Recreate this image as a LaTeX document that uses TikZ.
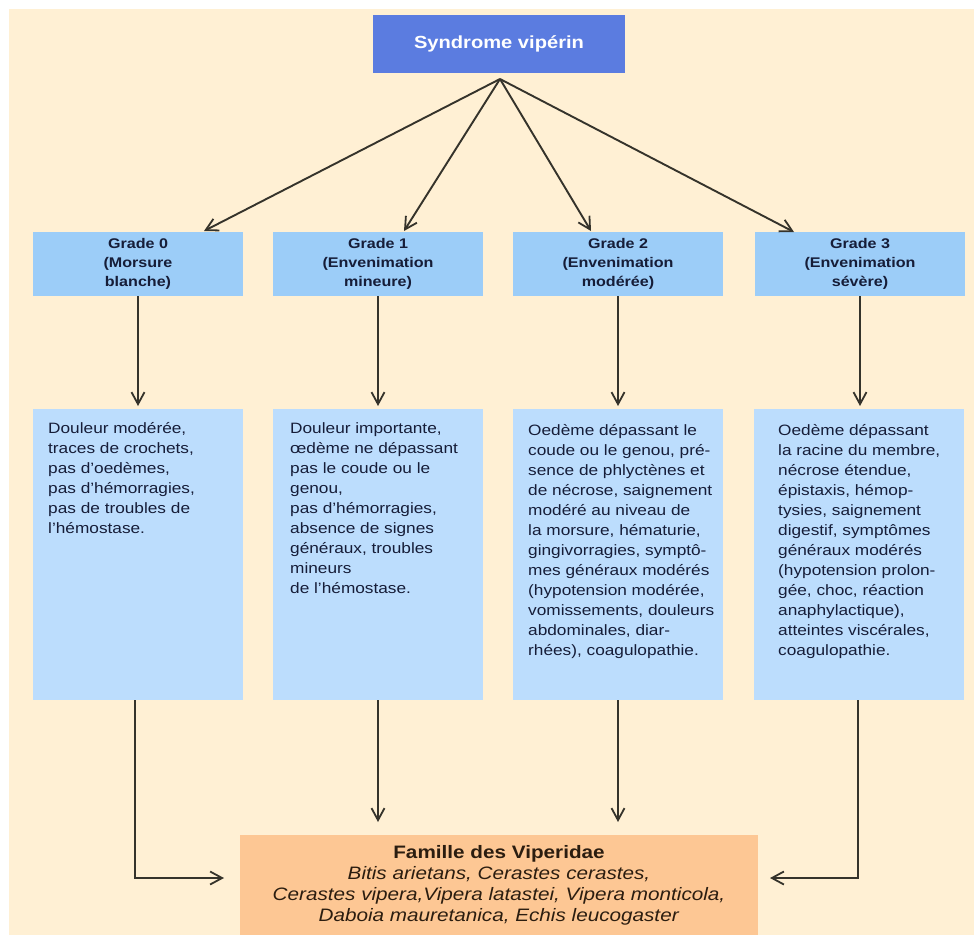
\documentclass[tikz,border=0pt]{standalone}
\usepackage{fontspec}
\setmainfont{Liberation Sans}[FakeStretch=1.15]
\usetikzlibrary{arrows.meta,calc}
\definecolor{bgc}{HTML}{FFF0D4}
\definecolor{topc}{HTML}{5B7CE0}
\definecolor{gradec}{HTML}{9CCDF8}
\definecolor{detc}{HTML}{BCDDFD}
\definecolor{famc}{HTML}{FDC794}
\definecolor{arrc}{HTML}{35332B}
\definecolor{navy}{HTML}{161D38}
\definecolor{brownt}{HTML}{2B1D10}
\tikzset{
  topbox/.style={fill=topc, inner sep=0pt, outer sep=0pt, minimum width=252pt, minimum height=58pt,
    text=white, font=\fontsize{17.5}{21}\selectfont\bfseries},
  gradebox/.style={fill=gradec, inner sep=0pt, outer sep=0pt, minimum width=210pt, minimum height=64pt,
    align=center, text=navy, font=\fontsize{14}{19}\selectfont\bfseries},
  detbox/.style={fill=detc, inner sep=0pt, outer sep=0pt, minimum width=210pt, minimum height=291pt, anchor=north west},
  dettext/.style={anchor=north west, inner sep=0pt, align=left, text=navy, font=\fontsize{15}{20}\selectfont},
  fambox/.style={fill=famc, inner sep=0pt, outer sep=0pt, minimum width=518pt, minimum height=100pt, anchor=north west},
  famtext/.style={anchor=north, inner sep=0pt, align=center, text=brownt, font=\fontsize{18}{21.2}\selectfont},
  arr/.style={draw=arrc, line width=1.9pt, -{Straight Barb[length=12pt,width=13pt,line width=1.8pt]}},
}
\begin{document}
\begin{tikzpicture}[x=1pt,y=-1pt]
\useasboundingbox (0,0) rectangle (974,935);
\fill[white] (0,0) rectangle (974,935);
\fill[bgc] (9,9) rectangle (974,935);

\node[topbox] (top) at (499,44) {Syndrome vipérin};
\coordinate (apex) at (500,79);

\node[gradebox] (g0) at (138,264) {Grade 0\\(Morsure\\blanche)};
\node[gradebox] (g1) at (378,264) {Grade 1\\(Envenimation\\mineure)};
\node[gradebox] (g2) at (618,264) {Grade 2\\(Envenimation\\modérée)};
\node[gradebox] (g3) at (860,264) {Grade 3\\(Envenimation\\sévère)};

\coordinate (g0tip) at ($(g0.north)+(66,-1)$);
\coordinate (g1tip) at ($(g1.north)+(26,-1)$);
\coordinate (g2tip) at ($(g2.north)+(-27,-1)$);
\coordinate (g3tip) at ($(g3.north)+(-66,0)$);

\draw[arr] (apex) -- (g0tip);
\draw[arr] (apex) -- (g1tip);
\draw[arr] (apex) -- (g2tip);
\draw[arr] (apex) -- (g3tip);

\node[detbox] (d0) at (33,409) {};
\node[detbox] (d1) at (273,409) {};
\node[detbox] (d2) at (513,409) {};
\node[detbox] (d3) at (754,409) {};

\draw[arr, shorten >=3pt] (g0.south) -- (d0.north -| g0.south);
\draw[arr, shorten >=3pt] (g1.south) -- (d1.north -| g1.south);
\draw[arr, shorten >=3pt] (g2.south) -- (d2.north -| g2.south);
\draw[arr, shorten >=3pt] (g3.south) -- (d3.north -| g3.south);

\node[dettext] (t0) at (48,422) {Douleur modérée,\\traces de crochets,\\pas d'oedèmes,\\pas d'hémorragies,\\pas de troubles de\\l'hémostase.};
\node[dettext] (t1) at (290,422) {Douleur importante,\\œdème ne dépassant\\pas le coude ou le\\genou,\\pas d'hémorragies,\\absence de signes\\généraux, troubles\\mineurs\\de l'hémostase.};
\node[dettext] (t2) at (528,424) {Oedème dépassant le\\coude ou le genou, pré-\\sence de phlyctènes et\\de nécrose, saignement\\modéré au niveau de\\la morsure, hématurie,\\gingivorragies, symptô-\\mes généraux modérés\\(hypotension modérée,\\vomissements, douleurs\\abdominales, diar-\\rhées), coagulopathie.};
\node[dettext] (t3) at (778,424) {Oedème dépassant\\la racine du membre,\\nécrose étendue,\\épistaxis, hémop-\\tysies, saignement\\digestif, symptômes\\généraux modérés\\(hypotension prolon-\\gée, choc, réaction\\anaphylactique),\\atteintes viscérales,\\coagulopathie.};

\node[fambox] (fam) at (240,835) {};
\node[famtext] (famt) at (499,845) {\textbf{Famille des Viperidae}\\\textit{Bitis arietans, Cerastes cerastes,}\\\textit{Cerastes vipera,Vipera latastei, Vipera monticola,}\\\textit{Daboia mauretanica, Echis leucogaster}};

\coordinate (row0) at (135,878);
\coordinate (row3) at (858,878);
\draw[arr, shorten >=16pt] (d0.south -| row0) -- (row0) -- (fam.west |- row0);
\draw[arr, shorten >=13pt] (d1.south) -- (d1.south |- fam.north);
\draw[arr, shorten >=13pt] (d2.south) -- (d2.south |- fam.north);
\draw[arr, shorten >=12pt] (d3.south -| row3) -- (row3) -- (fam.east |- row3);
\end{tikzpicture}
\end{document}
